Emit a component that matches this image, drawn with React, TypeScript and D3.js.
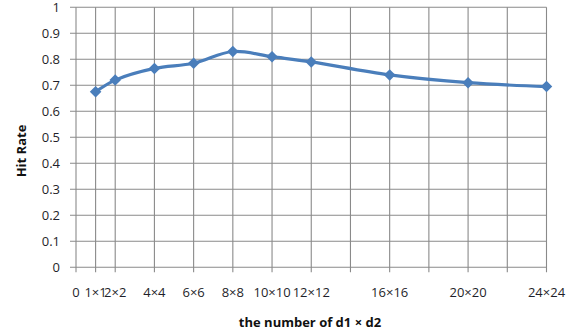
import React from "react";
import * as d3 from "d3";

const xValues = [1, 2, 4, 6, 8, 10, 12, 16, 20, 24];
const hitRate = [0.675, 0.72, 0.765, 0.785, 0.83, 0.81, 0.79, 0.74, 0.71, 0.695];
const gridXs = [0, 1, 2, 4, 6, 8, 10, 12, 14, 16, 18, 20, 22, 24];
const xTickLabels: [number, string][] = [
  [0, "0"], [1, "1×1"], [2, "2×2"], [4, "4×4"], [6, "6×6"], [8, "8×8"],
  [10, "10×10"], [12, "12×12"], [16, "16×16"], [20, "20×20"], [24, "24×24"],
];
const yTicks = [0, 0.1, 0.2, 0.3, 0.4, 0.5, 0.6, 0.7, 0.8, 0.9, 1];

export default function App() {
  const W = 584, H = 334;
  const x = d3.scaleLinear().domain([0, 24]).range([76, 546.5]);
  const y = d3.scaleLinear().domain([0, 1]).range([267.3, 7.3]);
  const line = d3.line<number>()
    .x((_, i) => x(xValues[i]))
    .y((d) => y(d))
    .curve(d3.curveCatmullRom.alpha(0.5));
  const font = "'Open Sans', sans-serif";
  const grid = "#8a8a8a";
  const txt = "#1f1f2a";
  const diamond = d3.symbol().type(d3.symbolDiamond2).size(85)();
  return (
    <svg width={W} height={H} style={{ position: "absolute", left: 0, top: 0 }}>
      <rect width={W} height={H} fill="#fff" />
      {yTicks.map((t) => (
        <line key={"h" + t} x1={x(0) - 6} x2={x(24)} y1={y(t)} y2={y(t)} stroke={grid} strokeWidth={1.1} />
      ))}
      {gridXs.map((g) => (
        <line key={"v" + g} x1={x(g)} x2={x(g)} y1={y(1)} y2={y(0) + 5} stroke={grid} strokeWidth={1.1} />
      ))}
      {yTicks.map((t) => (
        <text key={"yt" + t} x={60} y={y(t)} dy="0.35em" textAnchor="end" fontFamily={font} fontSize={13} fill={txt}>
          {d3.format("")(t)}
        </text>
      ))}
      {xTickLabels.map(([v, s]) => (
        <text key={"xt" + v} x={x(v)} y={292} dy="0.35em" textAnchor="middle" fontFamily={font} fontSize={13} fill={txt}>
          {s}
        </text>
      ))}
      <path d={line(hitRate) || ""} fill="none" stroke="#4a7ebb" strokeWidth={3.2} />
      {hitRate.map((v, i) => (
        <path key={"m" + i} d={diamond || ""} transform={`translate(${x(xValues[i])},${y(v)})`} fill="#4a7ebb" />
      ))}
      <text x={310} y={322} dy="0.35em" textAnchor="middle" fontFamily={font} fontSize={13} fontWeight="bold" fill="#111">
        the number of d1 × d2
      </text>
      <text transform={`translate(21,151) rotate(-90)`} dy="0.35em" textAnchor="middle" fontFamily={font} fontSize={13} fontWeight="bold" fill="#111">
        Hit Rate
      </text>
    </svg>
  );
}
